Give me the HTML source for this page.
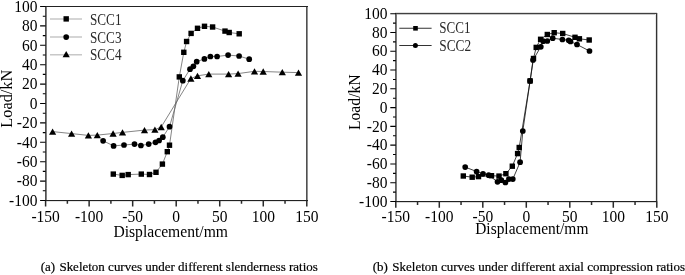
<!DOCTYPE html>
<html><head><meta charset="utf-8"><style>
html,body{margin:0;padding:0;background:#fff;width:685px;height:275px;overflow:hidden}
svg{display:block;filter:grayscale(1)}
text{font-family:"Liberation Serif",serif;fill:#000}
.tl{font-size:15.5px}
.at{font-size:16px}
.ay{font-size:16.5px}
.lg{font-size:17.7px;fill:#2a2a2a}
.lg2{font-size:16.2px;fill:#2a2a2a}
.cap{font-size:13px;stroke:#000;stroke-width:0.2px}
</style></head><body>
<svg width="685" height="275" viewBox="0 0 685 275">
<rect x="45" y="201" width="263" height="1" fill="#e4e4e4"/><rect x="45" y="6" width="1" height="195" fill="#505050"/><rect x="46" y="6" width="1" height="195" fill="#808080"/><rect x="306" y="6" width="1" height="195" fill="#505050"/><rect x="307" y="6" width="1" height="195" fill="#909090"/><rect x="45" y="6" width="263" height="1" fill="#222"/><rect x="45" y="200" width="263" height="1" fill="#222"/><text transform="translate(37.50,11.70) scale(1,1.070)" text-anchor="end" class="tl">100</text><path d="M45.60 200.50V206.50M67.37 200.50V203.70M89.13 200.50V206.50M110.90 200.50V203.70M132.67 200.50V206.50M154.43 200.50V203.70M176.20 200.50V206.50M197.97 200.50V203.70M219.73 200.50V206.50M241.50 200.50V203.70M263.27 200.50V206.50M285.03 200.50V203.70M306.80 200.50V206.50" stroke="#2a2a2a" stroke-width="1.5" fill="none"/><path d="M40.10 6.50H45.60M42.80 16.20H45.60M40.10 25.90H45.60M42.80 35.60H45.60M40.10 45.30H45.60M42.80 55.00H45.60M40.10 64.70H45.60M42.80 74.40H45.60M40.10 84.10H45.60M42.80 93.80H45.60M40.10 103.50H45.60M42.80 113.20H45.60M40.10 122.90H45.60M42.80 132.60H45.60M40.10 142.30H45.60M42.80 152.00H45.60M40.10 161.70H45.60M42.80 171.40H45.60M40.10 181.10H45.60M42.80 190.80H45.60M40.10 200.50H45.60" stroke="#000" stroke-width="1.1" fill="none"/><text transform="translate(37.50,31.10) scale(1,1.070)" text-anchor="end" class="tl">80</text><text transform="translate(37.50,50.50) scale(1,1.070)" text-anchor="end" class="tl">60</text><text transform="translate(37.50,69.90) scale(1,1.070)" text-anchor="end" class="tl">40</text><text transform="translate(37.50,89.30) scale(1,1.070)" text-anchor="end" class="tl">20</text><text transform="translate(37.50,108.70) scale(1,1.070)" text-anchor="end" class="tl">0</text><text transform="translate(37.50,128.10) scale(1,1.070)" text-anchor="end" class="tl">-20</text><text transform="translate(37.50,147.50) scale(1,1.070)" text-anchor="end" class="tl">-40</text><text transform="translate(37.50,166.90) scale(1,1.070)" text-anchor="end" class="tl">-60</text><text transform="translate(37.50,186.30) scale(1,1.070)" text-anchor="end" class="tl">-80</text><text transform="translate(37.50,205.70) scale(1,1.070)" text-anchor="end" class="tl">-100</text><text transform="translate(45.60,221.60) scale(1,1.070)" text-anchor="middle" class="tl">-150</text><text transform="translate(89.13,221.60) scale(1,1.070)" text-anchor="middle" class="tl">-100</text><text transform="translate(132.67,221.60) scale(1,1.070)" text-anchor="middle" class="tl">-50</text><text transform="translate(176.20,221.60) scale(1,1.070)" text-anchor="middle" class="tl">0</text><text transform="translate(219.73,221.60) scale(1,1.070)" text-anchor="middle" class="tl">50</text><text transform="translate(263.27,221.60) scale(1,1.070)" text-anchor="middle" class="tl">100</text><text transform="translate(306.80,221.60) scale(1,1.070)" text-anchor="middle" class="tl">150</text><text transform="translate(113.40,236.80) scale(1,1.060)" class="at" textLength="114.6" lengthAdjust="spacingAndGlyphs">Displacement/mm</text><text transform="translate(12.3,98.7) rotate(-90) scale(0.99,1)" text-anchor="middle" class="ay">Load/kN</text><g stroke="#c8c8c8" stroke-width="1.6"><path d="M50 19H82M50 37H82M50 54.8H82"/></g><g><rect x="63.50" y="16.20" width="5.4" height="5.4"/><circle cx="66.20" cy="37.10" r="2.85"/><polygon points="66.20,50.95 62.60,57.25 69.80,57.25"/></g><text x="90" y="24.6" class="lg" transform="" textLength="31.5" lengthAdjust="spacingAndGlyphs">SCC1</text><text x="90" y="42.6" class="lg" textLength="31.5" lengthAdjust="spacingAndGlyphs">SCC3</text><text x="90" y="60.3" class="lg" textLength="31.5" lengthAdjust="spacingAndGlyphs">SCC4</text><polyline fill="none" stroke="#666" stroke-width="0.8" points="113.3,174.1 122.2,175.4 128.2,174.6 141.3,174.1 149.5,174.5 156.0,172.3 162.4,164.1 167.3,151.7 169.5,145.2 179.3,76.9 183.8,52.3 186.6,41.5 191.1,33.4 197.5,28.3 204.5,26.3 212.6,27.0 225.0,31.1 229.2,32.5 239.2,33.8"/><polyline fill="none" stroke="#666" stroke-width="0.8" points="103.1,140.8 113.6,145.9 124.0,145.0 134.5,144.1 140.9,145.5 148.7,144.1 155.5,142.3 159.1,140.5 162.8,137.2 169.5,126.7 182.8,80.7 190.0,69.2 193.4,66.3 196.7,61.7 204.4,58.9 210.4,56.5 217.1,56.5 228.1,55.1 239.1,56.0 249.2,59.2"/><polyline fill="none" stroke="#666" stroke-width="0.8" points="52.6,131.6 71.6,133.6 88.4,135.4 97.3,135.1 113.1,133.5 122.5,132.4 144.5,130.1 154.9,129.6 161.2,127.0 190.9,78.5 197.5,75.8 208.8,74.1 228.6,74.1 238.1,73.6 254.5,71.3 263.2,71.5 282.3,72.2 298.5,72.6"/><g><rect x="110.60" y="171.40" width="5.4" height="5.4"/><rect x="119.50" y="172.70" width="5.4" height="5.4"/><rect x="125.50" y="171.90" width="5.4" height="5.4"/><rect x="138.60" y="171.40" width="5.4" height="5.4"/><rect x="146.80" y="171.80" width="5.4" height="5.4"/><rect x="153.30" y="169.60" width="5.4" height="5.4"/><rect x="159.70" y="161.40" width="5.4" height="5.4"/><rect x="164.60" y="149.00" width="5.4" height="5.4"/><rect x="166.80" y="142.50" width="5.4" height="5.4"/><rect x="176.60" y="74.20" width="5.4" height="5.4"/><rect x="181.10" y="49.60" width="5.4" height="5.4"/><rect x="183.90" y="38.80" width="5.4" height="5.4"/><rect x="188.40" y="30.70" width="5.4" height="5.4"/><rect x="194.80" y="25.60" width="5.4" height="5.4"/><rect x="201.80" y="23.60" width="5.4" height="5.4"/><rect x="209.90" y="24.30" width="5.4" height="5.4"/><rect x="222.30" y="28.40" width="5.4" height="5.4"/><rect x="226.50" y="29.80" width="5.4" height="5.4"/><rect x="236.50" y="31.10" width="5.4" height="5.4"/><circle cx="103.10" cy="140.80" r="2.85"/><circle cx="113.60" cy="145.90" r="2.85"/><circle cx="124.00" cy="145.00" r="2.85"/><circle cx="134.50" cy="144.10" r="2.85"/><circle cx="140.90" cy="145.50" r="2.85"/><circle cx="148.70" cy="144.10" r="2.85"/><circle cx="155.50" cy="142.30" r="2.85"/><circle cx="159.10" cy="140.50" r="2.85"/><circle cx="162.80" cy="137.20" r="2.85"/><circle cx="169.50" cy="126.70" r="2.85"/><circle cx="182.80" cy="80.70" r="2.85"/><circle cx="190.00" cy="69.20" r="2.85"/><circle cx="193.40" cy="66.30" r="2.85"/><circle cx="196.70" cy="61.70" r="2.85"/><circle cx="204.40" cy="58.90" r="2.85"/><circle cx="210.40" cy="56.50" r="2.85"/><circle cx="217.10" cy="56.50" r="2.85"/><circle cx="228.10" cy="55.10" r="2.85"/><circle cx="239.10" cy="56.00" r="2.85"/><circle cx="249.20" cy="59.20" r="2.85"/><polygon points="52.60,128.45 49.00,134.75 56.20,134.75"/><polygon points="71.60,130.45 68.00,136.75 75.20,136.75"/><polygon points="88.40,132.25 84.80,138.55 92.00,138.55"/><polygon points="97.30,131.95 93.70,138.25 100.90,138.25"/><polygon points="113.10,130.35 109.50,136.65 116.70,136.65"/><polygon points="122.50,129.25 118.90,135.55 126.10,135.55"/><polygon points="144.50,126.95 140.90,133.25 148.10,133.25"/><polygon points="154.90,126.45 151.30,132.75 158.50,132.75"/><polygon points="161.20,123.85 157.60,130.15 164.80,130.15"/><polygon points="190.90,75.35 187.30,81.65 194.50,81.65"/><polygon points="197.50,72.65 193.90,78.95 201.10,78.95"/><polygon points="208.80,70.95 205.20,77.25 212.40,77.25"/><polygon points="228.60,70.95 225.00,77.25 232.20,77.25"/><polygon points="238.10,70.45 234.50,76.75 241.70,76.75"/><polygon points="254.50,68.15 250.90,74.45 258.10,74.45"/><polygon points="263.20,68.35 259.60,74.65 266.80,74.65"/><polygon points="282.30,69.05 278.70,75.35 285.90,75.35"/><polygon points="298.50,69.45 294.90,75.75 302.10,75.75"/></g><rect x="395" y="14" width="262" height="1" fill="#c8c8c8"/><rect x="395" y="12" width="262" height="1" fill="#e0e0e0"/><rect x="395" y="202" width="262" height="1" fill="#d8d8d8"/><rect x="395" y="13" width="1" height="189" fill="#606060"/><rect x="396" y="13" width="1" height="189" fill="#7a7a7a"/><rect x="656" y="13" width="1" height="189" fill="#333"/><rect x="657" y="13" width="1" height="189" fill="#c0c0c0"/><rect x="655" y="13" width="1" height="189" fill="#e8e8e8"/><rect x="395" y="13" width="262" height="1" fill="#404040"/><rect x="395" y="201" width="262" height="1" fill="#222"/><text transform="translate(387.50,18.90) scale(1,1.070)" text-anchor="end" class="tl">100</text><path d="M395.80 201.50V207.70M417.55 201.50V204.90M439.30 201.50V207.70M461.05 201.50V204.90M482.80 201.50V207.70M504.55 201.50V204.90M526.30 201.50V207.70M548.05 201.50V204.90M569.80 201.50V207.70M591.55 201.50V204.90M613.30 201.50V207.70M635.05 201.50V204.90M656.80 201.50V207.70" stroke="#2a2a2a" stroke-width="1.5" fill="none"/><path d="M390.30 13.70H395.80M393.00 23.09H395.80M390.30 32.48H395.80M393.00 41.87H395.80M390.30 51.26H395.80M393.00 60.65H395.80M390.30 70.04H395.80M393.00 79.43H395.80M390.30 88.82H395.80M393.00 98.21H395.80M390.30 107.60H395.80M393.00 116.99H395.80M390.30 126.38H395.80M393.00 135.77H395.80M390.30 145.16H395.80M393.00 154.55H395.80M390.30 163.94H395.80M393.00 173.33H395.80M390.30 182.72H395.80M393.00 192.11H395.80M390.30 201.50H395.80" stroke="#000" stroke-width="1.1" fill="none"/><text transform="translate(387.50,37.68) scale(1,1.070)" text-anchor="end" class="tl">80</text><text transform="translate(387.50,56.46) scale(1,1.070)" text-anchor="end" class="tl">60</text><text transform="translate(387.50,75.24) scale(1,1.070)" text-anchor="end" class="tl">40</text><text transform="translate(387.50,94.02) scale(1,1.070)" text-anchor="end" class="tl">20</text><text transform="translate(387.50,112.80) scale(1,1.070)" text-anchor="end" class="tl">0</text><text transform="translate(387.50,131.58) scale(1,1.070)" text-anchor="end" class="tl">-20</text><text transform="translate(387.50,150.36) scale(1,1.070)" text-anchor="end" class="tl">-40</text><text transform="translate(387.50,169.14) scale(1,1.070)" text-anchor="end" class="tl">-60</text><text transform="translate(387.50,187.92) scale(1,1.070)" text-anchor="end" class="tl">-80</text><text transform="translate(387.50,206.70) scale(1,1.070)" text-anchor="end" class="tl">-100</text><text transform="translate(395.80,222.40) scale(1,1.070)" text-anchor="middle" class="tl">-150</text><text transform="translate(439.30,222.40) scale(1,1.070)" text-anchor="middle" class="tl">-100</text><text transform="translate(482.80,222.40) scale(1,1.070)" text-anchor="middle" class="tl">-50</text><text transform="translate(526.30,222.40) scale(1,1.070)" text-anchor="middle" class="tl">0</text><text transform="translate(569.80,222.40) scale(1,1.070)" text-anchor="middle" class="tl">50</text><text transform="translate(613.30,222.40) scale(1,1.070)" text-anchor="middle" class="tl">100</text><text transform="translate(656.80,222.40) scale(1,1.070)" text-anchor="middle" class="tl">150</text><text transform="translate(475.20,234.00) scale(1,1.060)" class="at" textLength="113.2" lengthAdjust="spacingAndGlyphs">Displacement/mm</text><text transform="translate(359.5,102.2) rotate(-90) scale(0.95,1)" text-anchor="middle" class="ay">Load/kN</text><g stroke="#333" stroke-width="1.1"><path d="M399.3 28.3H431.6M399.3 45.5H431.6"/></g><rect x="413.2" y="26.0" width="4.6" height="4.6"/><circle cx="415.4" cy="45.4" r="2.5"/><text x="439.3" y="33.4" class="lg2" textLength="31.3" lengthAdjust="spacingAndGlyphs">SCC1</text><text x="439.3" y="50.7" class="lg2" textLength="31.9" lengthAdjust="spacingAndGlyphs">SCC2</text><polyline fill="none" stroke="#111" stroke-width="0.8" points="463.3,176.0 472.2,177.2 478.5,176.6 491.5,175.7 499.0,176.1 505.9,173.7 512.3,166.2 517.6,153.6 519.2,147.5 530.1,80.9 533.5,58.5 536.2,47.4 540.6,39.3 547.3,34.5 554.2,32.7 562.7,33.5 575.0,37.3 579.4,38.8 589.2,40.0"/><polyline fill="none" stroke="#111" stroke-width="0.8" points="465.2,167.1 476.6,171.5 483.0,173.8 488.7,175.2 497.5,181.8 501.3,180.2 505.4,182.5 508.9,179.1 512.8,179.1 520.1,162.2 522.8,131.0 530.1,80.9 533.0,60.0 540.8,46.8 543.1,41.2 547.3,41.0 552.7,38.2 562.4,39.5 568.7,40.3 570.5,41.5 577.0,44.5 589.5,51.0"/><g><rect x="460.60" y="173.30" width="5.4" height="5.4"/><rect x="469.50" y="174.50" width="5.4" height="5.4"/><rect x="475.80" y="173.90" width="5.4" height="5.4"/><rect x="488.80" y="173.00" width="5.4" height="5.4"/><rect x="496.30" y="173.40" width="5.4" height="5.4"/><rect x="503.20" y="171.00" width="5.4" height="5.4"/><rect x="509.60" y="163.50" width="5.4" height="5.4"/><rect x="514.90" y="150.90" width="5.4" height="5.4"/><rect x="516.50" y="144.80" width="5.4" height="5.4"/><rect x="527.40" y="78.20" width="5.4" height="5.4"/><rect x="530.80" y="55.80" width="5.4" height="5.4"/><rect x="533.50" y="44.70" width="5.4" height="5.4"/><rect x="537.90" y="36.60" width="5.4" height="5.4"/><rect x="544.60" y="31.80" width="5.4" height="5.4"/><rect x="551.50" y="30.00" width="5.4" height="5.4"/><rect x="560.00" y="30.80" width="5.4" height="5.4"/><rect x="572.30" y="34.60" width="5.4" height="5.4"/><rect x="576.70" y="36.10" width="5.4" height="5.4"/><rect x="586.50" y="37.30" width="5.4" height="5.4"/><circle cx="465.20" cy="167.10" r="2.85"/><circle cx="476.60" cy="171.50" r="2.85"/><circle cx="483.00" cy="173.80" r="2.85"/><circle cx="488.70" cy="175.20" r="2.85"/><circle cx="497.50" cy="181.80" r="2.85"/><circle cx="501.30" cy="180.20" r="2.85"/><circle cx="505.40" cy="182.50" r="2.85"/><circle cx="508.90" cy="179.10" r="2.85"/><circle cx="512.80" cy="179.10" r="2.85"/><circle cx="520.10" cy="162.20" r="2.85"/><circle cx="522.80" cy="131.00" r="2.85"/><circle cx="530.10" cy="80.90" r="2.85"/><circle cx="533.00" cy="60.00" r="2.85"/><circle cx="540.80" cy="46.80" r="2.85"/><circle cx="543.10" cy="41.20" r="2.85"/><circle cx="547.30" cy="41.00" r="2.85"/><circle cx="552.70" cy="38.20" r="2.85"/><circle cx="562.40" cy="39.50" r="2.85"/><circle cx="568.70" cy="40.30" r="2.85"/><circle cx="570.50" cy="41.50" r="2.85"/><circle cx="577.00" cy="44.50" r="2.85"/><circle cx="589.50" cy="51.00" r="2.85"/></g><text transform="translate(40.70,271.40) scale(1,1.030)" class="cap">(a)</text><text transform="translate(59.40,271.40) scale(1,1.030)" class="cap">Skeleton curves under different slenderness ratios</text><text transform="translate(372.70,271.40) scale(1,1.030)" class="cap">(b)</text><text transform="translate(392.30,271.40) scale(1,1.030)" class="cap">Skeleton curves under different axial compression ratios</text></svg></body></html>
